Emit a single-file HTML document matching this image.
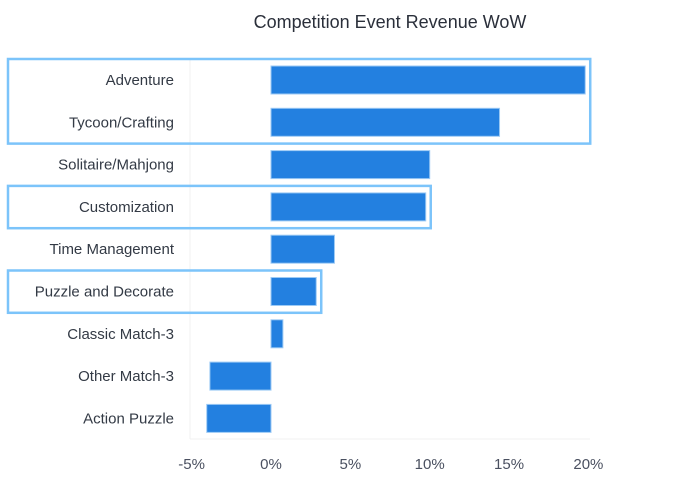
<!DOCTYPE html>
<html><head><meta charset="utf-8"><style>
body{margin:0;background:#fff;font-family:"Liberation Sans",sans-serif;}
</style></head><body>
<svg id="chart" width="684" height="481" xmlns="http://www.w3.org/2000/svg">
<text x="390" y="28" text-anchor="middle" font-size="18" fill="#2a2f3a" font-family="Liberation Sans, sans-serif">Competition Event Revenue WoW</text>
<g id="grid"></g><g id="bars"></g><g id="labels"></g><g id="ticks"></g><g id="boxes"></g>
</svg>
<script>
const categories=["Adventure","Tycoon/Crafting","Solitaire/Mahjong","Customization","Time Management","Puzzle and Decorate","Classic Match-3","Other Match-3","Action Puzzle"];
const values=[19.8,14.4,10.0,9.75,4.0,2.85,0.75,-3.85,-4.05];
const tickValues=[-5,0,5,10,15,20];
const tickLabels=["-5%","0%","5%","10%","15%","20%"];
const highlighted=["Adventure","Tycoon/Crafting","Customization","Puzzle and Decorate"];
const NS="http://www.w3.org/2000/svg";
const x=v=>271+v*15.87;
const rowTop=59, rowH=42.3, plotBottom=439;
const y=i=>rowTop+i*rowH;
function mk(tag,attrs,parent){const e=document.createElementNS(NS,tag);for(const k in attrs)e.setAttribute(k,attrs[k]);document.getElementById(parent).appendChild(e);return e;}
let g=mk("line",{x1:190,x2:190,y1:59,y2:plotBottom,stroke:"#f0f0f0"},"grid");


g=mk("line",{x1:190,x2:590,y1:plotBottom,y2:plotBottom,stroke:"#f0f0f0"},"grid");


categories.forEach((c,i)=>{
  const v=values[i];
  const b=mk("rect",{x:Math.min(x(0),x(v)),y:y(i)+7,width:Math.abs(x(v)-x(0)),height:28,fill:"#2380e0",stroke:"#9ccaf5","stroke-width":1},"bars");
  
  
  const t=mk("text",{x:174,y:y(i)+26,"text-anchor":"end","font-size":15,fill:"#333a45"},"labels");
  t.textContent=c;
  
  
});
tickValues.forEach((v,i)=>{
  const t=mk("text",{x:x(v),y:469,"text-anchor":"middle","font-size":15,fill:"#4a5060"},"ticks");
  t.textContent=tickLabels[i];
  
  
});
// highlight boxes around consecutive highlighted rows
let i=0;
while(i<categories.length){
  if(highlighted.includes(categories[i])){
    let j=i;while(j+1<categories.length&&highlighted.includes(categories[j+1]))j++;
    let mx=0;for(let k=i;k<=j;k++)mx=Math.max(mx,x(values[k]));
    const r=mk("rect",{x:8,y:y(i),width:mx+5-8,height:(j-i+1)*rowH,fill:"none",stroke:"#7cc4fa","stroke-width":2.5},"boxes");
    
    
    i=j+1;
  } else i++;
}
</script>
</body></html>
